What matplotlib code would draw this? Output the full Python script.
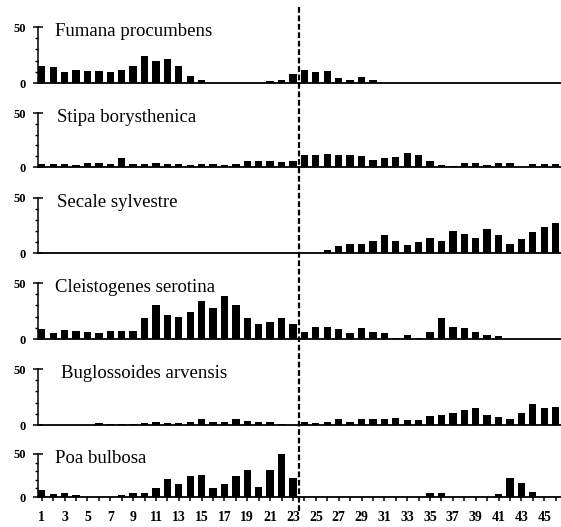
import matplotlib
matplotlib.use("Agg")
import matplotlib.pyplot as plt
from matplotlib.lines import Line2D
import numpy as np

# ---------------- data ----------------
positions = list(range(1, 47))
species = ["Fumana procumbens", "Stipa borysthenica", "Secale sylvestre",
           "Cleistogenes serotina", "Buglossoides arvensis", "Poa bulbosa"]

fumana = [15, 14, 10, 12, 11, 11, 10, 12, 15, 24, 20, 21, 15, 6, 2.5, 0, 0, 0, 0, 0, 2, 2.5, 8,
          12, 9.5, 10.5, 4.5, 2.5, 5.5, 3, 0, 0, 0, 0, 0, 0, 0, 0, 0, 0, 0, 0, 0, 0, 0, 0]
stipa = [2.7, 2.4, 2.4, 1.5, 3.7, 3.7, 2.7, 8.5, 3, 2.7, 3.7, 3, 2.4, 1.8, 2.4, 2.4, 1.5, 2.4, 5.5, 5.5, 5.5, 4.5, 6,
         10.7, 10.7, 12, 10.7, 10.7, 10, 6.7, 8.2, 9, 12.8, 11.3, 5.2, 1.5, 0.5, 4, 4, 2, 3.4, 3.4, 0, 2.5, 2.5, 2.5]
secale = [0] * 25 + [3, 6, 8.5, 8.5, 11, 16, 11, 7.5, 10, 14, 10.6, 19.7, 17.6, 13.6, 21.8, 16.7, 8, 12.7, 19, 23.6, 27]
cleistogenes = [9, 5, 8, 7, 6, 5.5, 7.5, 7.5, 7.5, 18.5, 30, 21, 20, 24, 34, 28, 38, 30, 18.5, 13, 15, 19, 13,
                6.5, 11, 11, 9, 5, 10, 6.5, 5, 1, 4, 1, 6.5, 18.5, 11, 10, 6.5, 3.5, 2.5, 0, 0, 0, 0, 0]
buglossoides = [0, 0, 0, 0, 0, 1.5, 0.5, 0.5, 0.5, 2, 3, 2, 2, 3, 5.5, 3, 3, 5.5, 4, 3, 3, 0.5, 0,
                2.5, 1.5, 3, 5.5, 3, 5.5, 5.5, 5.5, 6.5, 4.5, 4.5, 7.7, 8.6, 11, 13.7, 15, 9.2, 7, 5, 10.4, 18.5, 15.5, 16]
poa = [8.7, 3, 5, 2, 0, 0.5, 0.5, 2, 4.3, 4.3, 10, 20.5, 14.6, 25, 25.6, 10.6, 15, 24, 31.5, 12, 31.5, 50, 22.5,
       0, 0.5, 0, 0, 0, 0, 0, 0, 0, 0, 0, 4.7, 4.7, 0.5, 0.5, 0.5, 0.5, 4, 22.4, 16.5, 6, 0.5, 0.5]
series = [fumana, stipa, secale, cleistogenes, buglossoides, poa]

y_ticks = [0, 50]
y_minor = [10, 20, 30, 40]
x_tick_labels = [str(p) if p % 2 == 1 else "" for p in positions]
divider_x = 23.5

# ---------------- layout (pixels) ----------------
W, H = 561, 527
panel_px = [(27, 83), (113, 167), (198, 253), (283, 339), (369, 425), (454, 497)]  # (top=50-level, baseline)
label_dx_pt = [12, 14, 14, 12, 16.3, 12]
left_px = 38

serif = ["Liberation Serif", "DejaVu Serif"]

fig = plt.figure(figsize=(W / 100, H / 100), dpi=100)
fig.patch.set_facecolor("white")

axes = []
for i, (y50, y0) in enumerate(panel_px):
    ax = fig.add_axes([left_px / W, 1 - y0 / H, (W - left_px) / W, (y0 - y50) / H])
    axes.append(ax)
    ax.bar(positions, series[i], width=0.64, color="black", edgecolor="none")
    ax.set_xlim(0.67, 46.47)
    ax.set_ylim(0, 50)
    for s in ("top", "right"):
        ax.spines[s].set_visible(False)
    ax.spines["left"].set_linewidth(1.1)
    ax.spines["bottom"].set_linewidth(1.3)
    ax.set_yticks(y_ticks)
    ax.set_yticklabels([str(v) for v in y_ticks], fontfamily=serif, fontweight="bold", fontsize=9)
    ax.set_yticks(y_minor, minor=True)
    ax.tick_params(axis="y", which="major", direction="inout", length=7.5, width=1.1, pad=5)
    ax.tick_params(axis="y", which="minor", direction="out", length=2.2, width=1.0)
    ax.annotate(species[i], xy=(0, 1), xycoords="axes fraction",
                xytext=(label_dx_pt[i], -6.2), textcoords="offset points",
                ha="left", va="baseline", fontsize=13.5, fontfamily=serif)
    if i < len(panel_px) - 1:
        ax.tick_params(axis="x", which="both", bottom=False, labelbottom=False)
    else:
        ax.set_xticks(positions)
        ax.set_xticklabels(x_tick_labels, fontfamily=serif, fontweight="bold", fontsize=10)
        ax.tick_params(axis="x", direction="out", length=3, width=1.1, pad=7)
    ax.set_facecolor("none")

# dashed divider through all panels
fig.canvas.draw()
xd_disp = axes[0].transData.transform((divider_x, 0))[0]
xd_fig = fig.transFigure.inverted().transform((xd_disp, 0))[0]
line = Line2D([xd_fig, xd_fig], [1 - 7 / H, 1 - 512 / H], transform=fig.transFigure,
              color="black", linewidth=1.6, dashes=(2.6, 1.2))
fig.add_artist(line)

fig.savefig("out.png", dpi=100, facecolor="white")
